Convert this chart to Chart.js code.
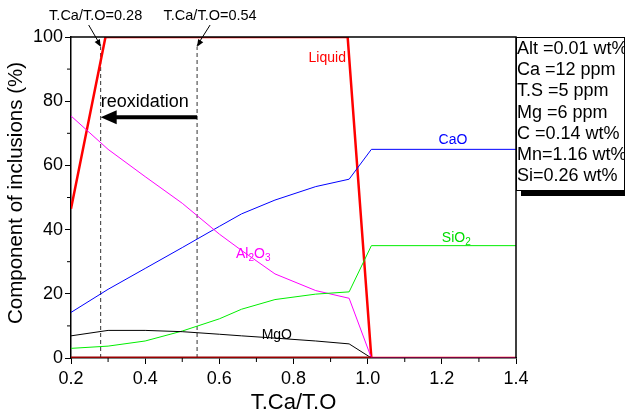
<!DOCTYPE html>
<html>
<head>
<meta charset="utf-8">
<script src="https://cdn.jsdelivr.net/npm/chart.js@4.4.0/dist/chart.umd.min.js"></script>
<style>
  body { margin: 0; background: #fff; }
  #c { display: block; }
</style>
</head>
<body>
<canvas id="c" width="625" height="420"></canvas>
<script>
// ratio T.Ca/T.O
var ratio = [0.2, 0.3, 0.4, 0.5, 0.6, 0.66, 0.75, 0.86, 0.95, 1.01, 1.4];
var cao   = [14.2, 21.4, 27.9, 34.4, 41.0, 44.9, 49.2, 53.4, 55.7, 65.0, 65.0];
var al2o3 = [75.4, 65.0, 56.5, 48.2, 38.6, 33.5, 26.2, 21.0, 18.6, 0, 0];
var sio2  = [3.0, 3.7, 5.3, 8.4, 12.2, 15.2, 18.2, 19.9, 20.6, 35.0, 35.0];
var mgo   = [6.9, 8.6, 8.6, 8.2, 7.4, 6.9, 6.2, 5.3, 4.4, 0, 0];

var liquidX = [0.2, 0.293, 0.946, 1.01, 1.4];
var liquidY = [46.5, 100, 100, 0, 0];
var solidX = [0.2, 1.01];
var solidY = [0, 0];

var markRatios = [0.28, 0.54];
var markTop = 97;
var reoxY = 75;

var compText = ['Alt =0.01 wt%', 'Ca =12 ppm', 'T.S =5 ppm', 'Mg =6 ppm', 'C =0.14 wt%', 'Mn=1.16 wt%', 'Si=0.26 wt%'];

var FONT = '"Liberation Sans", Arial, sans-serif';

function pts(xs, ys) {
  return xs.map(function (x, i) { return { x: x, y: ys[i] }; });
}

function line(label, xs, ys, color, width, dash) {
  return {
    label: label,
    data: pts(xs, ys),
    borderColor: color,
    borderWidth: width,
    borderDash: dash || [],
    pointRadius: 0,
    showLine: true,
    fill: false,
    tension: 0
  };
}

var datasets = [
  line('Solid', solidX, solidY, '#990000', 3),
  line('MgO', ratio, mgo, '#000000', 1),
  line('SiO2', ratio, sio2, '#00ee00', 1),
  line('Al2O3', ratio, al2o3, '#ff00ff', 1),
  line('CaO', ratio, cao, '#0000ff', 1),
  line('Liquid', liquidX, liquidY, '#ff0000', 2.5)
];
markRatios.forEach(function (r) {
  datasets.push(line('mark', [r, r], [0, markTop], '#333333', 1, [4, 3]));
});

function arrowHead(ctx, x1, y1, x2, y2, len, w) {
  var a = Math.atan2(y2 - y1, x2 - x1);
  ctx.beginPath();
  ctx.moveTo(x2, y2);
  ctx.lineTo(x2 - len * Math.cos(a) + w * Math.sin(a), y2 - len * Math.sin(a) - w * Math.cos(a));
  ctx.lineTo(x2 - len * Math.cos(a) - w * Math.sin(a), y2 - len * Math.sin(a) + w * Math.cos(a));
  ctx.closePath();
  ctx.fill();
}

var extras = {
  id: 'extras',
  afterDraw: function (chart) {
    var ctx = chart.ctx;
    var xs = chart.scales.x, ys = chart.scales.y;
    var ca = chart.chartArea;
    ctx.save();

    // frame top and right
    ctx.strokeStyle = '#000';
    ctx.lineWidth = 1.5;
    ctx.beginPath();
    ctx.moveTo(ca.left, ca.top);
    ctx.lineTo(ca.right, ca.top);
    ctx.lineTo(ca.right, ca.bottom);
    ctx.stroke();

    // minor ticks
    ctx.lineWidth = 1;
    for (var v = 0.3; v < 1.4; v += 0.2) {
      var px = xs.getPixelForValue(v);
      ctx.beginPath(); ctx.moveTo(px, ca.bottom); ctx.lineTo(px, ca.bottom + 4); ctx.stroke();
    }
    for (var w = 10; w < 100; w += 20) {
      var py = ys.getPixelForValue(w);
      ctx.beginPath(); ctx.moveTo(ca.left, py); ctx.lineTo(ca.left - 4, py); ctx.stroke();
    }

    // y title
    ctx.save();
    ctx.translate(16, 193);
    ctx.rotate(-Math.PI / 2);
    ctx.fillStyle = '#000';
    ctx.font = '20.5px ' + FONT;
    ctx.textAlign = 'center';
    ctx.textBaseline = 'middle';
    ctx.fillText('Component of inclusions (%)', 0, 0);
    ctx.restore();

    // mark labels and arrows
    ctx.fillStyle = '#000';
    ctx.font = '14.5px ' + FONT;
    ctx.textAlign = 'center';
    ctx.textBaseline = 'middle';
    var topY = ys.getPixelForValue(markTop);
    var offs = [-12, 13];
    markRatios.forEach(function (r, i) {
      var px = xs.getPixelForValue(r);
      ctx.fillText('T.Ca/T.O=' + r.toFixed(2), px + (i === 0 ? -5 : 13), 16);
      var sx = px + offs[i];
      ctx.lineWidth = 1;
      ctx.beginPath(); ctx.moveTo(sx, 25); ctx.lineTo(px, topY - 1); ctx.stroke();
      arrowHead(ctx, sx, 25, px, topY, 7, 3);
    });

    // reoxidation arrow
    var ay = ys.getPixelForValue(reoxY);
    var ax1 = xs.getPixelForValue(markRatios[1]);
    var ax2 = xs.getPixelForValue(markRatios[0]);
    ctx.lineWidth = 4;
    ctx.beginPath(); ctx.moveTo(ax1, ay); ctx.lineTo(ax2 + 14, ay); ctx.stroke();
    arrowHead(ctx, ax1, ay, ax2, ay, 16, 7);
    ctx.font = '18px ' + FONT;
    ctx.textAlign = 'left';
    ctx.fillText('reoxidation', ax2, ay - 15);

    // series labels
    ctx.font = '14px ' + FONT;
    ctx.textAlign = 'center';
    ctx.fillStyle = '#ff0000';
    ctx.fillText('Liquid', xs.getPixelForValue(0.891), ys.getPixelForValue(93.5));
    ctx.fillStyle = '#0000ff';
    ctx.fillText('CaO', xs.getPixelForValue(1.23), ys.getPixelForValue(67.8));
    ctx.fillStyle = '#00dd00';
    var sx2 = xs.getPixelForValue(1.2), sy2 = ys.getPixelForValue(37.3);
    ctx.textAlign = 'left';
    ctx.fillText('SiO', sx2, sy2);
    var wS = ctx.measureText('SiO').width;
    ctx.font = '10px ' + FONT;
    ctx.fillText('2', sx2 + wS, sy2 + 4);
    ctx.fillStyle = '#ff00ff';
    ctx.font = '14px ' + FONT;
    var lx = xs.getPixelForValue(0.645), ly = ys.getPixelForValue(32.2);
    ctx.fillText('Al', lx, ly);
    var w1 = ctx.measureText('Al').width;
    ctx.font = '10px ' + FONT;
    ctx.fillText('2', lx + w1, ly + 4);
    var w2 = ctx.measureText('2').width;
    ctx.font = '14px ' + FONT;
    ctx.fillText('O', lx + w1 + w2, ly);
    var w3 = ctx.measureText('O').width;
    ctx.font = '10px ' + FONT;
    ctx.fillText('3', lx + w1 + w2 + w3, ly + 4);
    ctx.fillStyle = '#000';
    ctx.font = '14px ' + FONT;
    ctx.textAlign = 'center';
    ctx.fillText('MgO', xs.getPixelForValue(0.755), ys.getPixelForValue(7.2));

    // composition box
    var bx = ca.right, by = ca.top, bw = 108, bh = 153;
    ctx.fillStyle = '#000';
    ctx.fillRect(bx + 5, by + bh, bw - 3, 6);
    ctx.fillStyle = '#fff';
    ctx.fillRect(bx, by, bw, bh);
    ctx.strokeStyle = '#000';
    ctx.lineWidth = 1;
    ctx.strokeRect(bx + 0.5, by + 0.5, bw, bh);
    ctx.fillStyle = '#000';
    ctx.font = '18px ' + FONT;
    ctx.textAlign = 'left';
    compText.forEach(function (t, i) {
      ctx.fillText(t, bx + 1, by + 12 + i * 21.2);
    });

    ctx.restore();
  }
};

new Chart(document.getElementById('c').getContext('2d'), {
  type: 'scatter',
  data: { datasets: datasets },
  options: {
    responsive: false,
    animation: false,
    layout: { padding: { top: 37, right: 109, left: 0, bottom: 0 } },
    plugins: { legend: { display: false }, tooltip: { enabled: false } },
    scales: {
      x: {
        type: 'linear',
        min: 0.2, max: 1.4,
        afterFit: function (s) { s.height = 62; },
        border: { display: true, color: '#000', width: 1.5 },
        grid: { display: true, drawOnChartArea: false, tickLength: 6, color: '#000' },
        ticks: {
          stepSize: 0.2, color: '#000', padding: 4,
          font: { family: FONT, size: 18 },
          callback: function (v) { return v.toFixed(1); }
        },
        title: { display: true, text: 'T.Ca/T.O', color: '#000', font: { family: FONT, size: 22 }, padding: { top: 4 } }
      },
      y: {
        min: 0, max: 100,
        afterFit: function (s) { s.width = 71; },
        border: { display: true, color: '#000', width: 1.5 },
        grid: { display: true, drawOnChartArea: false, tickLength: 6, color: '#000' },
        ticks: { stepSize: 20, color: '#000', padding: 2, font: { family: FONT, size: 18 } }
      }
    }
  },
  plugins: [extras]
});
</script>
</body>
</html>
